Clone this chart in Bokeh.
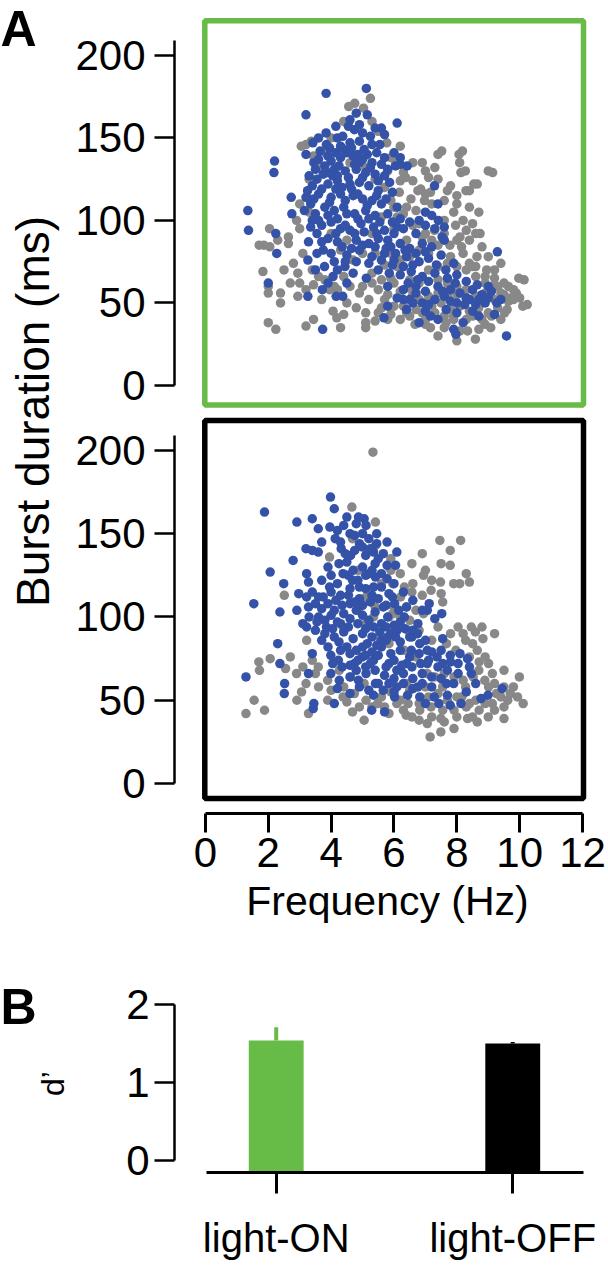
import math
from bokeh.plotting import figure
from bokeh.layouts import column, row
from bokeh.models import Range1d, BoxAnnotation, Label, FixedTicker
from bokeh.embed import file_html
from bokeh.resources import INLINE

# ---------------- data ----------------
# Panel A, light-ON block (green frame): (frequency Hz, burst duration ms)
on_gray = [(1.71,85),(1.86,85),(2.05,84),(2.04,95),(2.64,90),(2.64,86),(1.83,69),(2.0,56),(2.0,60),(2.39,56),
           (2.39,50),(2.0,38),(2.24,34),(3.2,36),(3.44,40),(2.94,68),(2.94,54),(3.44,61),(3.7,52),(4.06,45),
           (4.18,41),(4.3,35),(4.4,43),(5.1,44),(5.1,38),(5.4,39),(5.1,35),(4.75,171),(4.56,169),(5.25,174),
           (5.03,168),(3.2,146),(3.44,139),(3.82,141),(5.49,154),(5.77,147),(5.98,139),(6.05,134),(6.3,129),
           (6.37,126),(6.17,117),(6.54,113),(6.85,119),(6.97,112),(7.16,117),(6.76,118),(6.2,124),(5.9,138),
           (7.52,142),(8.18,142),(8.09,135),(8.27,130),(9.14,129),(8.65,122),(8.4,118),(8.74,92),(7.4,140),
           (8.07,140),(8.13,129),(8.29,118),(8.54,122),(9.0,130),(8.6,92),(10.14,64),(10.24,49),(9.89,56),
           (9.64,60),(9.64,51),(9.52,44),(10.0,53),(9.97,65),(10.1,48),(9.7,53),(9.4,56),(9.1,60),(8.0,27),
           (8.59,28),(8.9,37),(9.08,35),(8.34,33),(7.66,38),(7.16,35),(6.67,37),(7.4,30),(7.9,40),(7.78,85),
           (8.15,84),(8.4,74),(8.5,72),(8.95,70),(8.64,78),(7.96,97),(7.29,94),(5.5,58),(5.8,55),(6.0,62),
           (6.3,48),(6.6,55),(6.9,44),(7.2,48),(7.5,50),(7.8,46),(8.1,48),(8.4,45),(8.7,47),(9.0,44),(9.3,47),
           (9.6,46),(9.8,52),(5.2,52),(5.6,47),(5.9,43),(6.2,40),(6.5,42),(7.0,40),(7.6,42),(8.3,40),(8.8,40),
           (4.6,60),(4.9,56),(5.3,62),(4.8,47),(4.5,50),(6.4,88),(6.0,95),(6.7,106),(7.0,92),(7.4,85),(7.8,78),
           (8.2,80),(8.6,66),(8.9,62),(9.2,65),(9.5,62),(9.2,70),(8.1,90),(8.4,88),(7.6,100),(7.9,105),
           (8.2,100),(8.5,98),(5.4,80),(5.7,73),(6.1,72),(6.5,64),(6.8,62),(7.1,70),(7.4,64),(7.7,62),(8.0,60),
           (8.3,58),(4.3,82),(4.5,88),(4.0,92),(3.3,105),(3.0,95),(3.1,80),(2.8,74),(3.0,62),(3.6,66),(3.95,58),
           (4.2,58),(5.7,120),(5.4,125),(5.1,132),(4.6,135),(5.9,112),(6.4,108),(6.1,102),(6.8,98),(7.1,126),
           (7.3,132),(6.6,124),(6.9,135),(7.8,121),(7.6,112),(8.0,115),(7.2,110),(3.05,145),(3.37,148),
           (5.9,65),(6.2,57),(6.5,59),(6.8,52),(7.1,54),(7.4,56),(7.7,54),(8.0,55),(8.3,52),(8.6,54),(8.9,56),
           (9.2,52),(9.5,55),(9.8,58),(9.3,60),(8.9,66),(8.6,72),(8.3,70),(8.0,72),(7.7,74),(7.4,72),(7.1,80),
           (6.8,82),(6.5,78),(6.2,76),(5.9,80),(5.6,64),(5.3,68),(5.0,60),(5.7,52),(6.0,48),(6.7,46),(7.3,44),
           (7.9,42),(8.5,42),(9.1,42),(9.4,40),(8.7,34),(8.1,33),(7.6,35),(7.0,37),(6.4,44),(5.8,40),(5.5,44),
           (6.9,90),(7.2,88),(7.6,92),(8.0,88),(8.3,94),(8.8,84),(9.0,78),(9.4,74),(8.7,105),(8.4,108),(8.0,110),
           (7.7,118),(7.4,125),(7.0,116),(6.6,97),(6.3,104),(6.0,108),(5.6,102),(5.3,92),(5.0,80),(4.7,76),
           (4.4,66),(4.1,60),(3.8,64),(3.4,70),(3.2,58),(2.7,62),(2.5,70),(2.3,88),(2.9,100),(3.0,110),(3.3,125),
           (3.7,132),(4.0,150),(4.4,160),(5.3,160),(5.8,130),(6.2,145),(6.6,135),(7.0,130)]

on_blue = [(1.35,106),(1.37,94),(2.2,136),(2.18,129),(2.24,92),(2.27,80),(2.0,62),(2.73,114),(2.75,104),(3.2,164),
           (3.84,177),(5.12,180),(5.15,164),(6.1,159),(3.42,147),(3.2,140),(3.3,127),(3.84,153),(4.15,157),
           (3.85,146),(3.9,139),(3.88,129),(4.37,151),(4.74,155),(5.3,146),(5.6,156),(5.7,152),(5.86,123),
           (6.42,133),(6.05,133),(7.29,121),(7.41,100),(7.6,96),(7.53,90),(9.29,81),(9.58,30),(9.2,43),(8.7,42),
           (7.9,34),(7.97,31),(6.8,38),(5.68,41),(3.73,34),(4.16,54),(3.72,58),(3.26,54),(3.26,76),(3.28,87),
           (3.75,82),(3.79,72),(4.06,66),(4.44,72),(4.37,54),(5.12,65),(5.8,48),(6.6,50),(7.16,42),(7.66,46),
           (8.4,52),(8.9,50),(9.27,50),(9.0,60),(4.3,145),(4.6,147),(4.9,148),(5.05,143),(4.5,141),(3.6,137),
           (4.0,136),(4.3,138),(4.7,139),(5.0,137),(5.3,135),(5.6,134),(6.2,134),(3.5,131),(3.75,128),(4.1,131),
           (4.45,130),(4.8,131),(5.1,129),(5.4,128),(5.7,127),(3.4,121),(3.9,122),(4.2,124),(4.6,122),(4.9,123),
           (5.2,121),(5.5,118),(5.95,117),(3.2,114),(3.35,110),(3.6,116),(4.0,114),(4.3,116),(4.7,115),(5.0,113),
           (5.3,112),(5.6,110),(6.1,108),(3.15,106),(3.5,104),(3.8,108),(4.1,106),(4.4,108),(4.75,104),(5.1,106),
           (5.4,103),(5.8,104),(6.2,101),(6.5,99),(3.7,97),(4.0,99),(4.3,95),(4.6,94),(4.95,98),(5.35,96),
           (5.7,94),(6.0,92),(6.3,95),(6.7,92),(7.0,97),(3.9,89),(4.2,87),(4.8,88),(5.2,86),(5.5,89),(5.9,84),
           (6.2,86),(6.5,83),(6.9,86),(7.2,84),(7.6,88),(3.55,80),(4.5,79),(4.9,82),(5.3,78),(5.7,80),(6.0,76),
           (6.4,78),(6.8,75),(7.1,77),(7.5,79),(7.9,74),(3.5,70),(4.2,70),(4.7,68),(5.5,70),(5.85,68),(6.2,67),
           (6.55,69),(6.9,66),(7.3,68),(7.7,65),(8.0,67),(8.3,63),(3.9,62),(4.5,62),(5.8,60),(6.3,58),(6.7,60),
           (7.0,57),(7.4,60),(7.8,58),(8.1,56),(8.5,58),(8.8,55),(9.1,57),(6.1,53),(6.5,52),(6.9,50),(7.3,52),
           (7.6,54),(8.0,50),(8.3,53),(8.7,52),(9.0,53),(9.4,52),(6.4,46),(7.0,45),(7.4,40),(8.0,44),(8.2,38),
           (8.5,45),(4.8,165),(4.9,158),(5.0,153),(4.55,157),(4.2,150),(3.6,150),(5.4,156),(5.55,146),(6.2,138),
           (6.0,141),(3.25,118),(3.3,113),(3.4,100),(3.55,92),(3.7,87),(4.0,80),(3.35,96),(4.1,75),(7.4,110),
           (7.0,105),(6.8,100),(7.3,95),(7.2,103),
           (3.45,135),(3.65,142),(3.95,144),(4.15,141),(4.4,143),(4.65,144),(4.85,140),(5.15,140),(5.45,141),
           (3.55,125),(3.8,133),(4.05,127),(4.25,133),(4.55,126),(4.75,134),(5.0,126),(5.25,132),(5.5,124),
           (5.8,131),(3.45,113),(3.7,119),(3.95,111),(4.15,119),(4.45,112),(4.65,119),(4.85,116),(5.15,109),
           (5.45,115),(5.75,113),(3.6,100),(3.9,103),(4.2,101),(4.5,104),(4.85,101),(5.2,101),(5.55,99),(5.95,99),
           (4.15,92),(4.45,97),(4.75,92),(5.05,93),(5.45,92),(5.8,88),(6.1,96),(4.35,84),(4.65,83),(5.0,85),
           (5.4,84),(5.75,83),(6.05,80),(6.35,82),(6.7,80),(7.0,81),(7.35,73),(6.6,73),(6.3,72),(5.95,73),
           (5.6,76),(5.2,74),(4.8,75),(4.45,75),(7.65,70),(7.1,63),(6.75,64),(6.45,62),(7.55,57),(7.95,62),
           (8.65,61),(8.25,49),(8.6,49),(7.8,51),(7.1,49),(6.3,52),(6.7,56),(4.9,135),(4.2,127),(4.35,120),
           (5.7,138),(4.6,161),(5.25,151)]

# Panel A, light-OFF block (black frame)
off_gray = [(5.33,199),(4.66,166),(5.41,157),(7.46,146),(8.12,146),(7.79,140),(7.79,131),(6.57,132),(6.94,125),
            (7.48,121),(8.09,120),(8.4,121),(7.18,116),(7.55,109),(6.57,115),(6.39,106),(6.94,102),(8.04,94),
            (8.46,94),(8.59,91),(8.83,87),(8.28,86),(8.65,80),(8.71,73),(9.5,68),(9.99,64),(9.8,58),(9.93,52),
            (10.11,48),(9.62,50),(9.5,46),(9.5,39),(9.13,48),(8.71,44),(8.65,37),(8.34,39),(7.91,33),(7.49,31),
            (7.15,28),(7.06,36),(7.49,39),(6.57,40),(6.39,41),(5.84,42),(5.05,38),(4.68,43),(4.5,49),(4.38,52),
            (3.89,50),(3.28,42),(2.91,50),(3.06,55),(2.55,69),(2.06,75),(1.7,73),(1.72,68),(1.55,50),(1.29,42),
            (1.88,44),(2.51,113),(3.22,86),(3.4,74),(3.59,70),(3.89,62),(3.95,136),(4.68,147),(5.41,143),
            (5.9,135),(6.33,118),(6.21,112),(5.96,120),(5.35,100),(5.54,88),(5.84,84),(6.33,80),(6.7,76),
            (7.06,66),(7.3,64),(7.55,58),(7.91,64),(8.28,58),(8.52,64),(8.89,62),(9.13,66),(9.01,58),(9.26,54),
            (8.16,52),(8.4,48),(7.91,44),(7.55,44),(7.18,46),(6.82,44),(6.45,48),(6.09,48),(5.48,48),(5.11,50),
            (4.74,54),(5.05,60),(4.62,64),(4.26,68),(6.09,94),(6.45,92),(6.7,104),(5.96,102),(4.38,94),(4.87,104),
            (5.11,112),(4.87,128),(5.84,100),(7.67,84),(7.97,80),(8.4,76),(9.01,72),
            (5.9,55),(6.2,50),(6.5,56),(6.8,48),(7.1,52),(7.4,54),(7.7,50),(8.0,52),(8.3,46),(8.6,50),(8.9,48),
            (9.2,44),(9.4,52),(9.7,54),(9.0,40),(8.5,40),(8.0,40),(7.6,37),(7.2,40),(6.8,38),(6.3,44),(5.7,46),
            (5.3,46),(4.9,46),(5.6,52),(6.4,60),(7.0,58),(7.6,66),(8.2,62),(8.7,68),(9.2,60),(9.5,58),(8.9,76),
            (8.5,84),(8.2,90),(7.8,90),(7.4,94),(7.2,86),(6.8,92),(6.5,98),(6.2,100),(6.0,106),(6.6,120),
            (6.9,113),(7.2,122),(7.5,114),(7.0,128),(6.2,126),(5.9,128),(5.6,120),(5.4,106),(5.1,96),(4.4,58),
            (4.0,56),(3.6,58),(3.2,60),(3.5,66),(2.9,66),(2.7,76),(3.1,70),(8.8,94),(9.2,90),(7.9,120),(8.3,126),
            (7.5,132),(6.9,138)]

off_blue = [(1.88,163),(2.06,127),(1.54,108),(1.29,64),(2.51,54),(2.52,60),(2.37,72),(2.3,84),(2.49,120),(2.37,103),
            (2.79,134),(2.91,157),(3.2,141),(3.4,140),(3.59,139),(3.4,159),(3.98,172),(4.1,165),(3.96,154),
            (3.59,153),(3.22,126),(3.28,121),(2.91,104),(2.97,114),(3.22,112),(3.4,115),(3.28,106),(3.22,94),
            (3.4,78),(3.28,66),(3.45,48),(3.43,45),(4.1,48),(3.99,66),(3.99,77),(4.23,74),(4.26,62),(4.2,57),
            (5.29,44),(5.7,43),(6.02,52),(6.43,53),(6.82,52),(6.76,58),(7.28,52),(7.43,48),(7.79,47),(8.13,48),
            (7.67,60),(8.04,66),(8.46,66),(8.77,51),(8.99,53),(9.44,57),(8.34,75),(7.55,87),(7.12,108),(7.06,104),
            (7.52,102),(7.3,99),(6.09,139),(6.05,131),(5.78,145),(5.45,150),(5.05,159),(4.87,160),(5.11,155),
            (4.13,147),(4.32,141),(4.62,137),(4.38,126),(4.68,122),(5.35,139),(5.66,138),(5.78,131),(5.41,124),
            (5.78,123),(5.84,114),(5.66,106),(6.02,108),(6.33,100),(6.76,96),(6.57,88),(6.82,84),(7.06,80),
            (7.37,76),(7.79,77),(8.04,72),(7.55,72),(7.06,72),(6.57,70),(6.09,68),(5.84,72),(5.35,74),(4.99,76),
            (4.74,72),(5.11,66),(5.41,60),(5.84,60),(6.09,58),(5.66,56),(5.35,53),(4.87,62),(3.6,100),(3.8,98),
            (4.0,101),(4.2,97),(3.7,105),(3.9,108),(4.1,104),(4.4,102),(4.6,99),(4.8,104),(5.0,101),(5.2,98),
            (5.4,103),(5.6,96),(5.8,100),(6.0,95),(6.2,97),(3.5,92),(3.8,90),(4.1,88),(4.4,91),(4.7,87),(5.0,90),
            (5.3,88),(5.6,86),(5.9,90),(6.2,85),(6.5,88),(4.0,115),(4.3,113),(4.6,117),(4.9,111),(5.1,117),
            (5.3,113),(5.6,118),(5.2,126),(5.0,130),(4.7,128),(5.4,132),(5.1,137),(5.3,128),(4.5,133),(4.9,144),
            (5.2,147),(5.0,150),(4.6,150),(4.4,155),(4.8,156),(4.3,145),(4.6,108),(4.9,118),(3.9,82),(4.3,80),
            (4.6,78),(5.0,82),(5.3,79),(5.6,82),(5.9,78),(6.2,80),(6.5,76),(6.8,78),(7.1,74),(7.4,70),(7.7,68),
            (7.2,64),(6.9,66),(6.6,63),(6.3,66),(6.0,63),(5.7,65),(5.4,68),(5.1,70),(4.8,68),(4.6,64),(6.4,72),
            (7.0,86),(6.9,104),(6.6,110),(6.3,115),(6.0,120),(5.8,88),(6.1,92),(5.5,60),(5.2,56),(4.9,58),
            (4.6,54),(6.6,92),(4.0,125),(3.7,122),(3.6,112),(3.3,100),(3.1,96),(3.9,130),(4.2,120),
            (3.5,108),(3.75,112),(3.95,118),(4.15,110),(4.35,107),(4.55,113),(4.75,109),(5.0,107),(5.25,109),
            (5.5,111),(5.75,107),(5.95,112),(6.15,104),(6.4,106),(3.55,97),(3.85,94),(4.05,93),(4.3,96),(4.55,94),
            (4.85,96),(5.1,93),(5.35,94),(5.55,91),(5.75,94),(6.05,88),(6.35,93),(6.75,90),(4.05,72),(4.35,70),
            (4.6,71),(4.85,74),(5.1,77),(5.25,72),(5.5,77),(5.75,70),(6.0,74),(6.25,71),(6.55,80),(6.85,72),
            (7.2,79),(7.5,80),(7.8,73),(8.1,78),(8.4,70),(7.9,60),(7.5,63),(7.2,58),(6.9,60),(6.6,57),(6.3,60),
            (6.0,55),(7.0,48),(7.7,53),(8.3,55),(8.6,60),(3.7,86),(4.25,85),(4.5,82),(4.8,80),(5.15,84),(5.45,83),
            (5.75,86),(4.25,132),(4.45,138),(4.75,140),(5.0,142),(4.55,125),(4.85,122),(5.1,125),(5.35,118),
            (5.6,126),(5.5,135),(5.25,141),(4.75,149),(5.45,144),(4.2,152),(4.5,160),(3.7,145)]

burst_ticks = [0, 50, 100, 150, 200]
freq_ticks = [0, 2, 4, 6, 8, 10, 12]

# Panel B
conditions = ["light-ON", "light-OFF"]
d_prime = [1.54, 1.50]
d_prime_err = [0.17, 0.02]
dprime_ticks = [0, 1, 2]

# ---------------- style ----------------
FONT = "Liberation Sans"
GREEN = "#67bb47"
BLUE = "#3352a8"
GRAY = "#888888"
TICK_SIZE = "42px"
DOT = 9.5
STRIP_W = 72          # left strip holding panel letters and rotated titles
TOTAL_H = 1280


def style_axis(ax, line_w=2.5):
    ax.axis_line_width = line_w
    ax.axis_line_color = "black"
    ax.major_tick_line_width = line_w
    ax.major_tick_line_color = "black"
    ax.major_tick_in = 0
    ax.minor_tick_line_color = None
    ax.major_label_text_font = FONT
    ax.major_label_text_font_size = TICK_SIZE
    ax.major_label_text_color = "black"
    ax.axis_label_text_font = FONT
    ax.axis_label_text_font_style = "normal"
    ax.axis_label_text_color = "black"


def scatter_panel(gray, blue, frame_color, y_lo, y_hi, height, b_top, b_bottom, box_bottom, box_top, show_x):
    p = figure(width=608 - STRIP_W, height=height, x_range=Range1d(-0.984, 12.571), y_range=Range1d(y_lo, y_hi),
               output_backend="svg", toolbar_location=None, title=None,
               x_axis_location="below" if show_x else None,
               min_border_left=173 - STRIP_W, min_border_right=8, min_border_top=b_top, min_border_bottom=b_bottom)
    p.outline_line_color = None
    p.grid.visible = False
    p.scatter([q[0] for q in gray], [q[1] for q in gray], size=DOT, fill_color=GRAY, line_color=None)
    p.scatter([q[0] for q in blue], [q[1] for q in blue], size=DOT, fill_color=BLUE, line_color=None)
    p.add_layout(BoxAnnotation(left=-0.02, right=12.03, bottom=box_bottom, top=box_top,
                               fill_color=None, fill_alpha=0, line_color=frame_color,
                               line_alpha=1.0, line_width=5.5))
    ya = p.yaxis[0]
    style_axis(ya)
    ya.ticker = FixedTicker(ticks=burst_ticks)
    ya.bounds = (0, 209)
    ya.major_tick_out = 20
    ya.major_label_standoff = 9
    if show_x:
        xa = p.xaxis[0]
        style_axis(xa, 3)
        xa.ticker = FixedTicker(ticks=freq_ticks)
        xa.bounds = (0, 12)
        xa.major_tick_out = 19
        xa.major_label_standoff = 5
        xa.axis_label = "Frequency (Hz)"
        xa.axis_label_text_font_size = "41px"
        xa.axis_label_standoff = 8
    return p


p_on = scatter_panel(on_gray, on_blue, GREEN, -15.2, 224.8, 410, 14, 0, -11.8, 221, False)
p_off = scatter_panel(off_gray, off_blue, "black", -18.0, 224.0, 535, 0, 132, -9.0, 218, True)

# ---------------- panel B ----------------
idx = list(range(len(conditions)))
pb = figure(width=608 - STRIP_W, height=335, x_range=Range1d(-0.430, 1.371), y_range=Range1d(-0.154, 2.244),
            output_backend="svg", toolbar_location=None, title=None,
            min_border_left=173 - STRIP_W, min_border_right=8, min_border_top=40, min_border_bottom=108)
pb.outline_line_color = None
pb.grid.visible = False
bar_colors = [GREEN, "black"]
pb.vbar(x=idx, top=d_prime, bottom=-0.2, width=0.232, fill_color=bar_colors, line_color=None)
pb.segment(x0=idx, y0=d_prime, x1=idx, y1=[m + e for m, e in zip(d_prime, d_prime_err)],
           line_color=bar_colors, line_width=4)

yb = pb.yaxis[0]
style_axis(yb)
yb.ticker = FixedTicker(ticks=dprime_ticks)
yb.bounds = (0, 2)
yb.major_tick_out = 20
yb.major_label_standoff = 5

xb = pb.xaxis[0]
style_axis(xb, 3)
xb.ticker = FixedTicker(ticks=idx)
xb.major_label_overrides = {i: c for i, c in zip(idx, conditions)}
xb.bounds = (-0.295, 1.300)
xb.major_tick_out = 21
xb.major_label_standoff = 22
xb.major_label_text_font_size = "40px"

# ---------------- left strip: panel letters and rotated axis titles ----------------
strip = figure(width=STRIP_W, height=TOTAL_H, x_range=Range1d(0, 1), y_range=Range1d(0, 1),
               x_axis_location=None, y_axis_location=None, toolbar_location=None,
               output_backend="svg", title=None, min_border=0,
               min_border_left=0, min_border_right=0, min_border_top=0, min_border_bottom=0)
strip.outline_line_color = None
strip.grid.visible = False
letter_kw = dict(x_units="screen", y_units="screen", text_font=FONT, text_font_style="bold",
                 text_font_size="50px", text_color="black", text_baseline="alphabetic", text_align="left")
strip.add_layout(Label(x=0, y=TOTAL_H - 28, text="A", **letter_kw))
strip.add_layout(Label(x=0, y=TOTAL_H - 1006, text="B", **letter_kw))
strip.add_layout(Label(x=32, y=TOTAL_H - 411, x_units="screen", y_units="screen", text="Burst duration (ms)",
                       angle=math.pi / 2, text_font=FONT, text_font_size="46px", text_color="black",
                       text_align="center", text_baseline="middle"))
strip.add_layout(Label(x=70, y=TOTAL_H - 1083, x_units="screen", y_units="screen", text="d’",
                       angle=math.pi / 2, text_font=FONT, text_font_size="32px", text_color="black",
                       text_align="center", text_baseline="bottom"))

layout = row(strip, column(p_on, p_off, pb))

open("out.html", "w").write(file_html(layout, INLINE))
